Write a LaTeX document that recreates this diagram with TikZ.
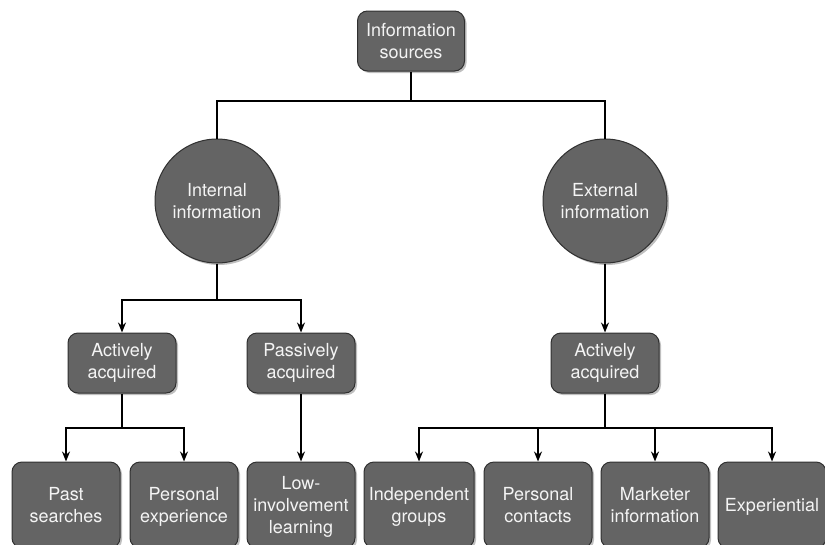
\documentclass[tikz,border=0pt]{standalone}
\usepackage{fontspec}
\setmainfont{TeX Gyre Heros}
\usetikzlibrary{arrows.meta,shadows}
\definecolor{boxfill}{HTML}{646464}
\definecolor{boxline}{HTML}{303030}
\definecolor{boxtext}{HTML}{F4F4F4}
\tikzset{
  base/.style={fill=boxfill, draw=boxline, line width=1pt, text=boxtext,
    font=\fontsize{18}{22}\selectfont, align=center, inner sep=1pt,
    drop shadow={shadow xshift=2pt, shadow yshift=-2pt, opacity=0.25, fill=black}},
  rbox/.style={base, rectangle, rounded corners=10pt, minimum width=108pt, minimum height=60pt},
  lbox/.style={base, rectangle, rounded corners=10pt, minimum width=108pt, minimum height=86pt, text depth=0pt},
  cbox/.style={base, circle, minimum size=124pt},
  conn/.style={line width=2.2pt, black},
  arr/.style={conn, -{Stealth[length=10pt,width=8pt]}}
}
\begin{document}
\begin{tikzpicture}[x=1pt,y=-1pt]
\useasboundingbox (0,0) rectangle (825,544);
\clip (0,0) rectangle (825,544);
% nodes
\node[rbox, minimum width=107pt] (top) at (411,41) {Information\\sources};
\node[cbox] (int) at (217,201) {Internal\\information};
\node[cbox] (ext) at (605,201) {External\\information};
\node[rbox] (aa1) at (122,363) {Actively\\acquired};
\node[rbox] (pa) at (301,363) {Passively\\acquired};
\node[rbox] (aa2) at (605,363) {Actively\\acquired};
\node[lbox] (ps) at (66,505) {Past\\searches};
\node[lbox] (pe) at (184,505) {Personal\\experience};
\node[lbox] (li) at (301,505) {Low-\\involvement\\learning};
\node[lbox, minimum width=110pt] (ig) at (419,505) {Independent\\groups};
\node[lbox] (pc) at (538,505) {Personal\\contacts};
\node[lbox] (mi) at (655,505) {Marketer\\information};
\node[lbox] (ex) at (772,505) {Experiential};
% junctions
\coordinate (j1) at (411,101);
\coordinate (j2) at (217,300);
\coordinate (j3) at (122,428);
\coordinate (j4) at (605,428);
% connectors
\draw[conn] (top.south) -- (j1);
\draw[conn] (int.north) -- (int.north |- j1) -- (ext.north |- j1) -- (ext.north);
\draw[conn] (int.south) -- (j2);
\draw[arr] (j2) -| (aa1.north);
\draw[arr] (j2) -| (pa.north);
\draw[arr] (ext.south) -- (aa2.north);
\draw[conn] (aa1.south) -- (j3);
\draw[arr] (j3) -| (ps.north);
\draw[arr] (j3) -| (pe.north);
\draw[arr] (pa.south) -- (li.north);
\draw[conn] (aa2.south) -- (j4);
\draw[arr] (j4) -| (ig.north);
\draw[arr] (j4) -| (pc.north);
\draw[arr] (j4) -| (mi.north);
\draw[arr] (j4) -| (ex.north);
\end{tikzpicture}
\end{document}
